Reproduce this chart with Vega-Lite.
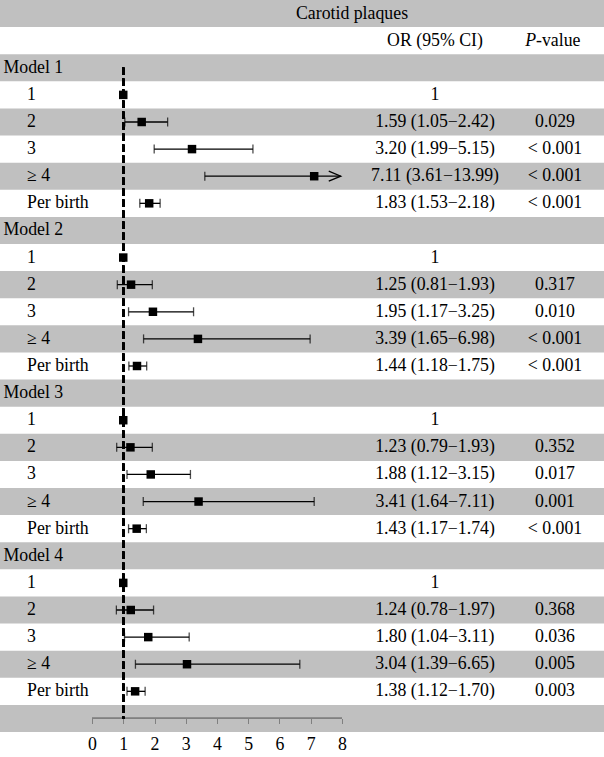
{
  "$schema": "https://vega.github.io/schema/vega-lite/v6.json",
  "width": 604,
  "height": 732,
  "autosize": {"type": "none"},
  "padding": {"left": 0, "right": 0, "top": 0, "bottom": 25},
  "background": "white",
  "config": {
    "view": {"stroke": null},
    "text": {"font": "Liberation Serif", "fontSize": 17.8, "color": "black", "baseline": "middle"}
  },
  "data": {
    "values": [
      {"row": 0, "type": "title", "label": "Carotid plaques", "shaded": true},
      {"row": 1, "type": "colhead", "orText": "OR (95% CI)", "pItalic": "P", "pRest": "-value", "shaded": false},
      {"row": 2, "type": "model", "label": "Model 1", "shaded": true},
      {"row": 3, "type": "item", "label": "1", "or": 1, "orText": "1", "shaded": false},
      {"row": 4, "type": "item", "label": "2", "or": 1.59, "lo": 1.05, "hi": 2.42, "hiShown": 2.42, "clipped": false, "orText": "1.59 (1.05−2.42)", "p": "0.029", "shaded": true},
      {"row": 5, "type": "item", "label": "3", "or": 3.20, "lo": 1.99, "hi": 5.15, "hiShown": 5.15, "clipped": false, "orText": "3.20 (1.99−5.15)", "p": "< 0.001", "shaded": false},
      {"row": 6, "type": "item", "label": "≥ 4", "or": 7.11, "lo": 3.61, "hi": 13.99, "hiShown": 7.96, "clipped": true, "orText": "7.11 (3.61−13.99)", "p": "< 0.001", "shaded": true},
      {"row": 7, "type": "item", "label": "Per birth", "or": 1.83, "lo": 1.53, "hi": 2.18, "hiShown": 2.18, "clipped": false, "orText": "1.83 (1.53−2.18)", "p": "< 0.001", "shaded": false},
      {"row": 8, "type": "model", "label": "Model 2", "shaded": true},
      {"row": 9, "type": "item", "label": "1", "or": 1, "orText": "1", "shaded": false},
      {"row": 10, "type": "item", "label": "2", "or": 1.25, "lo": 0.81, "hi": 1.93, "hiShown": 1.93, "clipped": false, "orText": "1.25 (0.81−1.93)", "p": "0.317", "shaded": true},
      {"row": 11, "type": "item", "label": "3", "or": 1.95, "lo": 1.17, "hi": 3.25, "hiShown": 3.25, "clipped": false, "orText": "1.95 (1.17−3.25)", "p": "0.010", "shaded": false},
      {"row": 12, "type": "item", "label": "≥ 4", "or": 3.39, "lo": 1.65, "hi": 6.98, "hiShown": 6.98, "clipped": false, "orText": "3.39 (1.65−6.98)", "p": "< 0.001", "shaded": true},
      {"row": 13, "type": "item", "label": "Per birth", "or": 1.44, "lo": 1.18, "hi": 1.75, "hiShown": 1.75, "clipped": false, "orText": "1.44 (1.18−1.75)", "p": "< 0.001", "shaded": false},
      {"row": 14, "type": "model", "label": "Model 3", "shaded": true},
      {"row": 15, "type": "item", "label": "1", "or": 1, "orText": "1", "shaded": false},
      {"row": 16, "type": "item", "label": "2", "or": 1.23, "lo": 0.79, "hi": 1.93, "hiShown": 1.93, "clipped": false, "orText": "1.23 (0.79−1.93)", "p": "0.352", "shaded": true},
      {"row": 17, "type": "item", "label": "3", "or": 1.88, "lo": 1.12, "hi": 3.15, "hiShown": 3.15, "clipped": false, "orText": "1.88 (1.12−3.15)", "p": "0.017", "shaded": false},
      {"row": 18, "type": "item", "label": "≥ 4", "or": 3.41, "lo": 1.64, "hi": 7.11, "hiShown": 7.11, "clipped": false, "orText": "3.41 (1.64−7.11)", "p": "0.001", "shaded": true},
      {"row": 19, "type": "item", "label": "Per birth", "or": 1.43, "lo": 1.17, "hi": 1.74, "hiShown": 1.74, "clipped": false, "orText": "1.43 (1.17−1.74)", "p": "< 0.001", "shaded": false},
      {"row": 20, "type": "model", "label": "Model 4", "shaded": true},
      {"row": 21, "type": "item", "label": "1", "or": 1, "orText": "1", "shaded": false},
      {"row": 22, "type": "item", "label": "2", "or": 1.24, "lo": 0.78, "hi": 1.97, "hiShown": 1.97, "clipped": false, "orText": "1.24 (0.78−1.97)", "p": "0.368", "shaded": true},
      {"row": 23, "type": "item", "label": "3", "or": 1.80, "lo": 1.04, "hi": 3.11, "hiShown": 3.11, "clipped": false, "orText": "1.80 (1.04−3.11)", "p": "0.036", "shaded": false},
      {"row": 24, "type": "item", "label": "≥ 4", "or": 3.04, "lo": 1.39, "hi": 6.65, "hiShown": 6.65, "clipped": false, "orText": "3.04 (1.39−6.65)", "p": "0.005", "shaded": true},
      {"row": 25, "type": "item", "label": "Per birth", "or": 1.38, "lo": 1.12, "hi": 1.70, "hiShown": 1.70, "clipped": false, "orText": "1.38 (1.12−1.70)", "p": "0.003", "shaded": false},
      {"row": 26, "type": "axis", "shaded": true}
    ]
  },
  "encoding": {
    "y": {
      "field": "row",
      "type": "ordinal",
      "axis": null,
      "scale": {
        "domain": [0,1,2,3,4,5,6,7,8,9,10,11,12,13,14,15,16,17,18,19,20,21,22,23,24,25,26],
        "paddingInner": 0,
        "paddingOuter": 0
      }
    }
  },
  "layer": [
    {
      "transform": [{"filter": "datum.shaded"}],
      "mark": {"type": "rect", "color": "#c0c0c0"},
      "encoding": {
        "x": {
          "datum": -2.944,
          "type": "quantitative",
          "scale": {"domain": [-2.944, 16.384], "nice": false, "zero": false},
          "axis": {
            "values": [0, 1, 2, 3, 4, 5, 6, 7, 8],
            "title": null,
            "domain": false,
            "grid": false,
            "offset": -13.5,
            "tickSize": 5,
            "tickColor": "#808080",
            "tickWidth": 1,
            "labelFont": "Liberation Serif",
            "labelFontSize": 17.8,
            "labelColor": "black",
            "labelPadding": 12,
            "labelFlush": false,
            "labelOverlap": false,
            "zindex": 1
          }
        },
        "x2": {"datum": 16.384}
      }
    },
    {
      "mark": {"type": "rule", "color": "#808080", "strokeWidth": 1},
      "encoding": {
        "x": {"datum": 0, "type": "quantitative"},
        "x2": {"datum": 8},
        "y": {"datum": 26, "type": "ordinal"}
      }
    },
    {
      "mark": {"type": "rule", "color": "black", "strokeWidth": 2, "strokeDash": [7, 4]},
      "encoding": {
        "x": {"datum": 1, "type": "quantitative"},
        "y": {"datum": 2, "type": "ordinal"},
        "y2": {"datum": 26}
      }
    },
    {
      "transform": [{"filter": "isValid(datum.lo)"}],
      "mark": {"type": "rule", "color": "black", "strokeWidth": 1.3},
      "encoding": {
        "x": {"field": "lo", "type": "quantitative"},
        "x2": {"field": "hiShown"}
      }
    },
    {
      "transform": [{"filter": "isValid(datum.lo)"}],
      "mark": {"type": "tick", "color": "black", "thickness": 1.3, "size": 9, "orient": "vertical"},
      "encoding": {
        "x": {"field": "lo", "type": "quantitative"}
      }
    },
    {
      "transform": [{"filter": "isValid(datum.lo) && !datum.clipped"}],
      "mark": {"type": "tick", "color": "black", "thickness": 1.3, "size": 9, "orient": "vertical"},
      "encoding": {
        "x": {"field": "hi", "type": "quantitative"}
      }
    },
    {
      "transform": [{"filter": "datum.clipped === true"}],
      "mark": {"type": "point", "shape": "M -2.4 -1 L 0 0 L -2.4 1", "filled": false, "stroke": "black", "strokeWidth": 1.3, "size": 100, "opacity": 1},
      "encoding": {
        "x": {"field": "hiShown", "type": "quantitative"}
      }
    },
    {
      "transform": [{"filter": "isValid(datum.or)"}],
      "mark": {"type": "square", "color": "black", "filled": true, "size": 72, "opacity": 1},
      "encoding": {
        "x": {"field": "or", "type": "quantitative"}
      }
    },
    {
      "transform": [{"filter": "datum.type === 'model'"}],
      "mark": {"type": "text", "align": "left"},
      "encoding": {
        "x": {"datum": -2.832, "type": "quantitative"},
        "text": {"field": "label"}
      }
    },
    {
      "transform": [{"filter": "datum.type === 'item'"}],
      "mark": {"type": "text", "align": "left"},
      "encoding": {
        "x": {"datum": -2.08, "type": "quantitative"},
        "text": {"field": "label"}
      }
    },
    {
      "transform": [{"filter": "datum.type === 'title'"}],
      "mark": {"type": "text", "align": "center"},
      "encoding": {
        "x": {"datum": 8.32, "type": "quantitative"},
        "text": {"field": "label"}
      }
    },
    {
      "transform": [{"filter": "isValid(datum.orText)"}],
      "mark": {"type": "text", "align": "center"},
      "encoding": {
        "x": {"datum": 10.976, "type": "quantitative"},
        "text": {"field": "orText"}
      }
    },
    {
      "transform": [{"filter": "isValid(datum.p)"}],
      "mark": {"type": "text", "align": "center"},
      "encoding": {
        "x": {"datum": 14.816, "type": "quantitative"},
        "text": {"field": "p"}
      }
    },
    {
      "transform": [{"filter": "isValid(datum.pItalic)"}],
      "mark": {"type": "text", "align": "right", "fontStyle": "italic"},
      "encoding": {
        "x": {"datum": 14.208, "type": "quantitative"},
        "text": {"field": "pItalic"}
      }
    },
    {
      "transform": [{"filter": "isValid(datum.pRest)"}],
      "mark": {"type": "text", "align": "left"},
      "encoding": {
        "x": {"datum": 14.208, "type": "quantitative"},
        "text": {"field": "pRest"}
      }
    }
  ]
}
